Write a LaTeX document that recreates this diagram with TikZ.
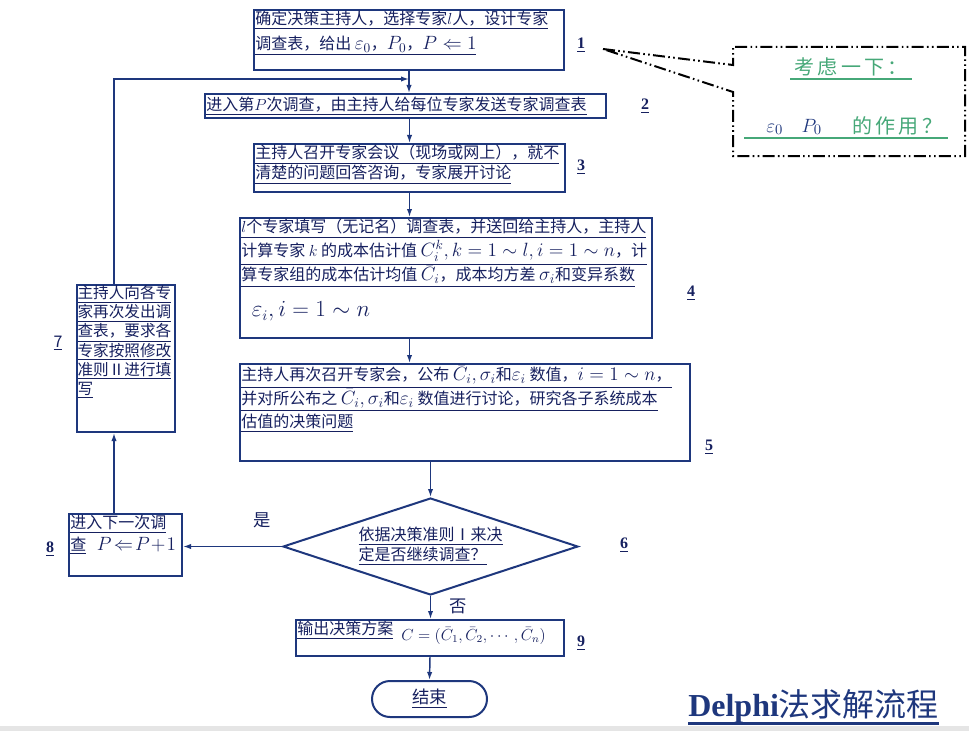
\documentclass[tikz,border=0pt]{standalone}
\usepackage{amsmath,amssymb}
\usepackage[no-math]{fontspec}
\setmainfont{Noto Sans CJK SC}
\newfontfamily\serif{Liberation Serif}
\usetikzlibrary{shapes.geometric, arrows.meta, positioning, calc}

\definecolor{boxblue}{RGB}{30,55,125}
\definecolor{inkblue}{RGB}{22,32,95}
\definecolor{hintgreen}{RGB}{70,168,120}
\newcommand{\px}{0.75pt}
\newcommand{\stepno}[1]{{\serif\bfseries\underline{#1}}}
\newcommand{\bigmath}[1]{{\fontsize{14.5}{16}\selectfont$#1$}}

\begin{document}
\begin{tikzpicture}[x=0.75pt, y=-0.75pt,
  box/.style={draw=boxblue, line width=1.5pt, inner sep=0pt},
  txt/.style={anchor=north west, align=left, inner sep=1.5pt, text=inkblue,
    font=\fontsize{12}{15}\selectfont},
  num/.style={text=inkblue, inner sep=1pt, font=\fontsize{12}{14}\selectfont},
  link/.style={draw=boxblue, line width=1.1pt, -{Latex[length=6pt,width=4pt]}}]

  % page and margins
  \useasboundingbox (0,0) rectangle (969,731);
  \fill[white] (0,0) rectangle (969,731);
  \fill[black!10] (0,726) rectangle (969,731);

  % steps
  \node[box, minimum width=310*\px, minimum height=60*\px] (s1) at (409,40) {};
  \node[txt, font=\fontsize{12}{18.5}\selectfont] at (s1.north west)
    {\underline{确定决策主持人，选择专家$l$人，设计专家}\\
     \underline{调查表，给出 \bigmath{\varepsilon_0}，\bigmath{P_0}，\bigmath{P\Leftarrow 1}}};

  \node[box, minimum width=401*\px, minimum height=24*\px] (s2) at (405.5,106) {};
  \node[txt, anchor=west] at (s2.west)
    {\underline{进入第$P$次调查，由主持人给每位专家发送专家调查表}};

  \node[box, minimum width=311*\px, minimum height=48*\px] (s3) at (409.5,168) {};
  \node[txt] at (s3.north west)
    {\underline{主持人召开专家会议（现场或网上），就不}\\
     \underline{清楚的问题回答咨询，专家展开讨论}};

  \node[box, minimum width=412*\px, minimum height=120*\px] (s4) at (446,278) {};
  \node[txt, font=\fontsize{12}{18}\selectfont] at (s4.north west)
    {\underline{$l$个专家填写（无记名）调查表，并送回给主持人，主持人}\\
     \underline{计算专家 $k$ 的成本估计值 \bigmath{C_i^k, k=1\sim l, i=1\sim n}，计}\\
     \underline{算专家组的成本估计均值 \bigmath{\bar{C}_i}，成本均方差 \bigmath{\sigma_i}和变异系数}\\[9pt]
     \hspace{8pt}{\fontsize{16}{18}\selectfont$\varepsilon_i, i=1\sim n$}};

  \node[box, minimum width=450*\px, minimum height=97*\px] (s5) at (465,412.5) {};
  \node[txt, font=\fontsize{12}{17.5}\selectfont] at (s5.north west)
    {\underline{主持人再次召开专家会，公布 \bigmath{\bar{C}_i,\sigma_i}和\bigmath{\varepsilon_i} 数值，\bigmath{i=1\sim n}，}\\
     \underline{并对所公布之 \bigmath{\bar{C}_i,\sigma_i}和\bigmath{\varepsilon_i} 数值进行讨论，研究各子系统成本}\\
     \underline{估值的决策问题}};

  \node[box, shape=diamond, minimum width=295*\px, minimum height=97*\px] (s6) at (430.5,546.5) {};
  \node[txt, anchor=center] at (s6)
    {\underline{依据决策准则Ⅰ来决}\\ \underline{定是否继续调查？}};

  \node[box, minimum width=98*\px, minimum height=147*\px] (s7) at (126,358.5) {};
  \node[txt, inner sep=1pt, font=\fontsize{11.7}{14.3}\selectfont] at (s7.north west)
    {\underline{主持人向各专}\\ \underline{家再次发出调}\\ \underline{查表，要求各}\\
     \underline{专家按照修改}\\ \underline{准则Ⅱ进行填}\\ \underline{写}};

  \node[box, minimum width=113*\px, minimum height=62*\px] (s8) at (125.5,545) {};
  \node[txt, font=\fontsize{12}{16}\selectfont] at (s8.north west)
    {\underline{进入下一次调}\\ \underline{查}\hspace{8pt}\bigmath{P\!\Leftarrow\! P\!+\!1}};

  \node[box, minimum width=268*\px, minimum height=36*\px] (s9) at (430,638) {};
  \node[txt] at (s9.north west)
    {\underline{输出决策方案}\hspace{6pt}\raisebox{-4pt}{$C=(\bar{C}_1,\bar{C}_2,\cdots,\bar{C}_n)$}};

  \node[box, rounded corners=18*\px, minimum width=115*\px, minimum height=36*\px,
    text=inkblue, font=\fontsize{13}{15}\selectfont] (s10) at (429.5,699) {\underline{结束}};

  % step numbers
  \node[num] (n1) at (581,45) {\stepno{1}};
  \node[num] (n2) at (645,106) {\stepno{2}};
  \node[num] (n3) at (581,167) {\stepno{3}};
  \node[num] (n4) at (691,293) {\stepno{4}};
  \node[num] (n5) at (709,447) {\stepno{5}};
  \node[num] (n6) at (624,545) {\stepno{6}};
  \node[num] (n7) at (58,343) {\underline{7}};
  \node[num] (n8) at (50,549) {\stepno{8}};
  \node[num] (n9) at (581,643) {\stepno{9}};

  % connectors
  \coordinate (back) at (409,79);
  \coordinate (up8) at ($(s8.north west)+(46,0)$);
  \coordinate (up7) at ($(s7.north west)+(38,0)$);
  \draw[link] (s1.south) -- (s1.south |- s2.north);
  \draw[link] (s3.north |- s2.south) -- (s3.north);
  \draw[link] (s3.south) -- (s3.south |- s4.north);
  \draw[link] (s3.south |- s4.south) -- (s3.south |- s5.north);
  \draw[link] (s6.north |- s5.south) -- (s6.north);
  \draw[link] (s6.west) -- (s8.east |- s6.west);
  \draw[link] (s6.south) -- (s6.south |- s9.north);
  \draw[link] (s9.south) -- (s10.north);
  \draw[link] (up8) -- (up8 |- s7.south);
  \draw[link] (up7) |- (back);
  \node[text=inkblue, font=\fontsize{13}{15}\selectfont] (yes) at (262,520) {是};
  \node[text=inkblue, font=\fontsize{13}{15}\selectfont] (no) at (458,606) {否};

  % hint callout
  \draw[black, line width=1.5pt, dash pattern=on 9pt off 2.5pt on 1.2pt off 2.5pt on 1.2pt off 2.5pt]
    (603,49) -- (733,65) -- (733,47) -- (965,47) -- (965,156) -- (733,156) -- (733,92) -- cycle;
  \node[text=hintgreen, font=\fontsize{15}{17}\selectfont] (hint1) at (851,67) {考\,虑\,一\,下\,：};
  \draw[hintgreen, line width=0.8pt] (790,79) -- (912,79);
  \node[text=boxblue, font=\fontsize{15}{17}\selectfont] (hint2) at (794,127)
    {$\varepsilon_0$\hspace{14pt}$P_0$};
  \node[text=hintgreen, font=\fontsize{15}{17}\selectfont] (hint3) at (897,126) {的\,作\,用\,？};
  \draw[hintgreen, line width=0.8pt] (744,138) -- (948,138);

  % title
  \node[text=boxblue, anchor=base west, inner sep=0pt, font=\fontsize{24}{27}\selectfont]
    (title) at (688,716) {{\serif\bfseries Delphi}法求解流程};
  \draw[boxblue, line width=2.2pt] (title.south west) -- (title.south east);

\end{tikzpicture}
\end{document}
